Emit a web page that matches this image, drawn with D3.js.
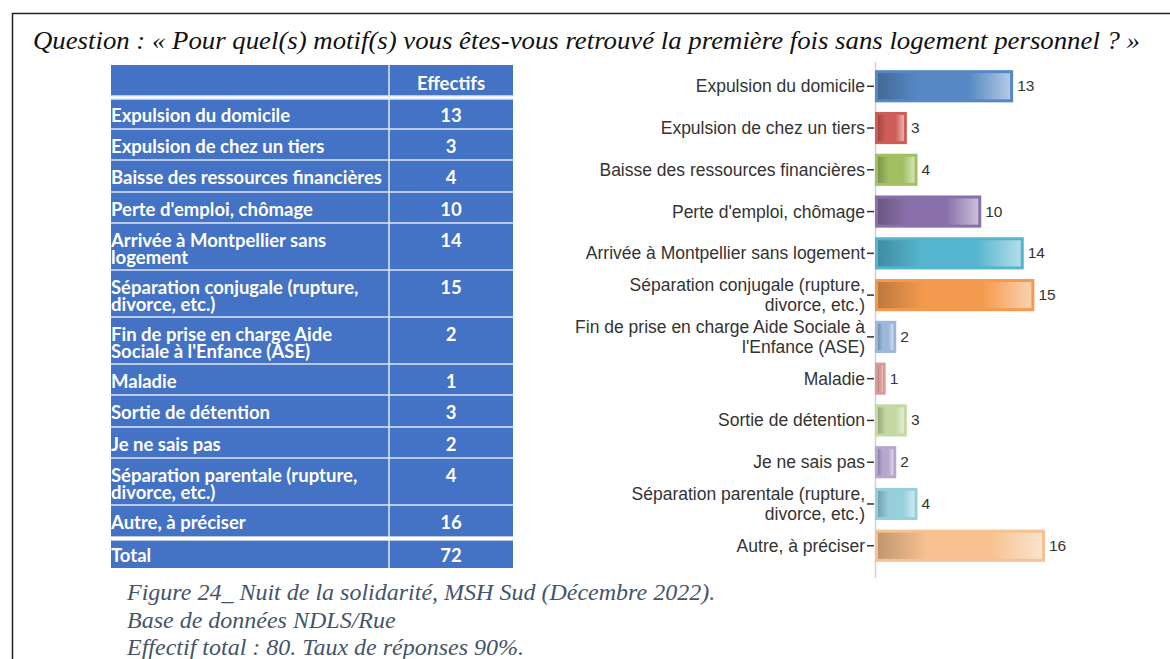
<!DOCTYPE html>
<html>
<head>
<meta charset="utf-8">
<script src="https://cdn.jsdelivr.net/npm/d3@7"></script>
<style>
  body { margin: 0; background: #fff; }
  svg { display: block; }
</style>
</head>
<body>
<svg id="fig" width="1170" height="659"></svg>
<script>
// Data
var tableLabels = [
  ['Expulsion du domicile'],
  ['Expulsion de chez un tiers'],
  ['Baisse des ressources financières'],
  ["Perte d'emploi, chômage"],
  ['Arrivée à Montpellier sans', 'logement'],
  ['Séparation conjugale (rupture,', 'divorce, etc.)'],
  ['Fin de prise en charge Aide', "Sociale à l'Enfance (ASE)"],
  ['Maladie'],
  ['Sortie de détention'],
  ['Je ne sais pas'],
  ['Séparation parentale (rupture,', 'divorce, etc.)'],
  ['Autre, à préciser']
]
var chartLabels = [
  ['Expulsion du domicile'],
  ['Expulsion de chez un tiers'],
  ['Baisse des ressources financières'],
  ["Perte d'emploi, chômage"],
  ['Arrivée à Montpellier sans logement'],
  ['Séparation conjugale (rupture,', 'divorce, etc.)'],
  ['Fin de prise en charge Aide Sociale à', "l'Enfance (ASE)"],
  ['Maladie'],
  ['Sortie de détention'],
  ['Je ne sais pas'],
  ['Séparation parentale (rupture,', 'divorce, etc.)'],
  ['Autre, à préciser']
]
var values = [13, 3, 4, 10, 14, 15, 2, 1, 3, 2, 4, 16]
var total = 72
var barColors = ['#5588c4', '#cf5d57', '#a2c062', '#8a70aa', '#55b4ce', '#f49a4e',
                 '#9bb7dc', '#d99a99', '#c4d8a2', '#b6a7cf', '#98cfdd', '#f7c190']
var title = 'Question : « Pour quel(s) motif(s) vous êtes-vous retrouvé la première fois sans logement personnel ? »'
var caption = [
  'Figure 24_ Nuit de la solidarité, MSH Sud (Décembre 2022).',
  'Base de données NDLS/Rue',
  'Effectif total : 80. Taux de réponses 90%.'
]

var svg = d3.select('#fig')

// frame
svg.append('path')
  .attr('d', 'M12.5,659 V13.5 H1170')
  .attr('fill', 'none').attr('stroke', '#222').attr('stroke-width', 1.5)

svg.append('text')
  .attr('x', 33).attr('y', 49)
  .attr('font-family', 'Liberation Serif, serif')
  .attr('font-style', 'italic')
  .attr('font-size', 25)
  .attr('textLength', 1107).attr('lengthAdjust', 'spacingAndGlyphs')
  .attr('fill', '#111')
  .text(title)

// Table
var tx0 = 111, tx1 = 389, tx2 = 513
var rowBounds = [99, 129, 160, 192, 223, 270, 317, 364, 395, 427, 458, 505, 537]
var tableFont = 'Lato, "Open Sans", sans-serif'
var tableSize = 18.5
var tableBlue = '#4472c4'
var table = svg.append('g')

function cellText(xp, yp, s, anchor) {
  return table.append('text').attr('x', xp).attr('y', yp)
    .attr('text-anchor', anchor || 'start').attr('font-family', tableFont).attr('font-weight', 'bold')
    .attr('font-size', tableSize).attr('fill', '#fff').text(s)
}

table.append('rect').attr('x', tx0).attr('y', 65).attr('width', tx2 - tx0).attr('height', 31).attr('fill', tableBlue)
cellText((tx1 + tx2) / 2, 90, 'Effectifs', 'middle')

tableLabels.forEach(function(lines, i) {
  var y0 = rowBounds[i], y1 = rowBounds[i + 1]
  table.append('rect').attr('x', tx0).attr('y', y0).attr('width', tx2 - tx0).attr('height', y1 - y0).attr('fill', tableBlue)
  var single = lines.length === 1
  var base = single ? (y0 + y1) / 2 + 8 : y0 + 24
  var t = cellText(tx0, base, null)
  lines.forEach(function(l, j) {
    t.append('tspan').attr('x', tx0).attr('y', base + j * 17).text(l)
  })
  cellText((tx1 + tx2) / 2, base, values[i], 'middle')
})
// total row
table.append('rect').attr('x', tx0).attr('y', 540).attr('width', tx2 - tx0).attr('height', 28).attr('fill', tableBlue)
cellText(tx0, 562, 'Total')
cellText((tx1 + tx2) / 2, 562, total, 'middle')

// grid lines of the table
var gridYs = [96, 99].concat(rowBounds.slice(1, -1)).concat([537, 540])
gridYs.forEach(function(y) {
  table.append('line').attr('x1', tx0).attr('x2', tx2).attr('y1', y).attr('y2', y)
    .attr('stroke', '#dfe7f5').attr('stroke-width', 1.5)
})
table.append('line').attr('x1', tx1).attr('x2', tx1).attr('y1', 65).attr('y2', 568)
  .attr('stroke', '#dfe7f5').attr('stroke-width', 1.5)
table.append('rect').attr('x', tx0).attr('y', 537).attr('width', tx2 - tx0).attr('height', 3).attr('fill', '#fff')

// Chart
var x = d3.scaleLinear().domain([0, 16]).range([875, 1045])
var y = d3.scaleBand().domain(d3.range(values.length)).range([66, 566]).paddingInner(0.23).paddingOuter(0.1)

var defs = svg.append('defs')
barColors.forEach(function(c, i) {
  var base = d3.color(c)
  var g = defs.append('linearGradient').attr('id', 'grad' + i).attr('x1', 0).attr('x2', 1).attr('y1', 0).attr('y2', 0)
  g.append('stop').attr('offset', '0%').attr('stop-color', base.darker(0.7))
  g.append('stop').attr('offset', '30%').attr('stop-color', base)
  g.append('stop').attr('offset', '68%').attr('stop-color', base)
  g.append('stop').attr('offset', '100%').attr('stop-color', d3.interpolateRgb(c, '#fff')(0.55))
})

var chart = svg.append('g')
chart.append('line').attr('x1', 875.5).attr('x2', 875.5).attr('y1', 62).attr('y2', 578)
  .attr('stroke', '#d0d0d0').attr('stroke-width', 1.5)

var bars = chart.selectAll('g.bar').data(values).enter().append('g').attr('class', 'bar')
bars.append('rect')
  .attr('x', x(0)).attr('y', function(d, i) { return y(i) })
  .attr('width', function(d) { return x(d) - x(0) }).attr('height', y.bandwidth())
  .attr('fill', function(d, i) { return barColors[i] })
bars.append('rect')
  .attr('x', x(0) + 3).attr('y', function(d, i) { return y(i) + 3 })
  .attr('width', function(d) { return Math.max(0, x(d) - x(0) - 6) }).attr('height', y.bandwidth() - 6)
  .attr('fill', function(d, i) { return 'url(#grad' + i + ')' })
bars.append('text')
  .attr('x', function(d) { return x(d) + 4 }).attr('y', function(d, i) { return y(i) + y.bandwidth() / 2 + 5 })
  .attr('font-family', 'Liberation Sans, Arial, sans-serif').attr('font-size', 15.5).attr('fill', '#333')
  .text(function(d) { return d })

var axis = d3.axisLeft(y).tickSize(7).tickSizeOuter(0).tickFormat('')
var ag = chart.append('g').attr('transform', 'translate(874,0)').call(axis)
ag.select('.domain').remove()
ag.selectAll('.tick line').attr('stroke', '#333').attr('stroke-width', 1.5)
ag.selectAll('.tick').each(function(d) {
  var lines = chartLabels[d]
  var t = d3.select(this).append('text')
    .attr('x', -9).attr('text-anchor', 'end')
    .attr('font-family', 'Liberation Sans, Arial, sans-serif').attr('font-size', 17.5).attr('fill', '#333')
  lines.forEach(function(l, j) {
    t.append('tspan').attr('x', -9).attr('y', 6 + (j - (lines.length - 1) / 2) * 20).text(l)
  })
})

// caption
var cap = svg.append('text').attr('font-family', 'Liberation Serif, serif').attr('font-style', 'italic')
  .attr('font-size', 24).attr('fill', '#44546a')
caption.forEach(function(l, i) {
  cap.append('tspan').attr('x', 127).attr('y', 600 + i * 27.5).text(l)
})
</script>
</body>
</html>
